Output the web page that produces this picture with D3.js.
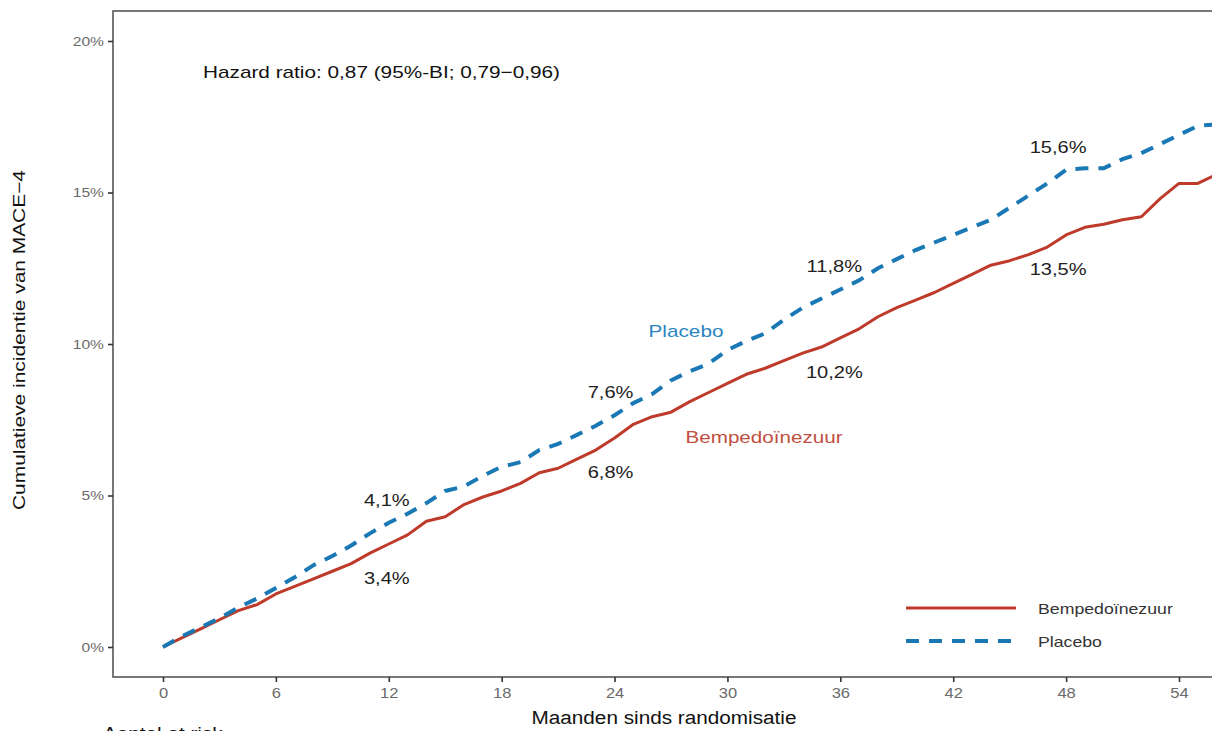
<!DOCTYPE html>
<html>
<head>
<meta charset="utf-8">
<script src="https://cdn.jsdelivr.net/npm/d3@7"></script>
<style>
  html, body { margin: 0; padding: 0; background: #fff; overflow: hidden; }
  text { font-family: "Liberation Sans", Arial, sans-serif; }
</style>
</head>
<body>
<div id="chart"></div>
<script>
// Data
const months = d3.range(0, 58);
const bempedoic = [0, 0.3, 0.6, 0.9, 1.2, 1.4, 1.75, 2.0, 2.25, 2.5, 2.75, 3.1, 3.4, 3.7, 4.15, 4.3, 4.7, 4.95, 5.15, 5.4,
  5.75, 5.9, 6.2, 6.5, 6.9, 7.35, 7.6, 7.75, 8.1, 8.4, 8.7, 9.0, 9.2, 9.45, 9.7, 9.9, 10.2, 10.5, 10.9, 11.2,
  11.45, 11.7, 12.0, 12.3, 12.6, 12.75, 12.95, 13.2, 13.6, 13.85, 13.95, 14.1, 14.2, 14.8, 15.3, 15.3, 15.6, 15.6];
const placebo = [0, 0.35, 0.65, 0.95, 1.3, 1.6, 1.95, 2.3, 2.7, 3.0, 3.35, 3.75, 4.1, 4.4, 4.75, 5.15, 5.3, 5.65, 5.95, 6.1,
  6.5, 6.7, 7.0, 7.3, 7.65, 8.05, 8.35, 8.8, 9.1, 9.35, 9.8, 10.1, 10.35, 10.8, 11.2, 11.5, 11.8, 12.1, 12.5, 12.8,
  13.1, 13.35, 13.6, 13.85, 14.1, 14.5, 14.9, 15.3, 15.75, 15.8, 15.8, 16.1, 16.3, 16.6, 16.9, 17.2, 17.25, 17.3];

const xTicks = [0, 6, 12, 18, 24, 30, 36, 42, 48, 54];
const yTicks = [0, 5, 10, 15, 20];

// Labels at the yearly time points
const markMonths = [12, 24, 36, 48];
const placeboMarks = ["4,1%", "7,6%", "11,8%", "15,6%"];
const bempedoicMarks = ["3,4%", "6,8%", "10,2%", "13,5%"];

const RED = "#be3a2b";
const BLUE = "#1a78b5";

const width = 1212, height = 731;

const x = d3.scaleLinear().domain([0, 54]).range([163, 1179]);
const y = d3.scaleLinear().domain([0, 20]).range([647, 41]);

const panel = { left: 113, top: 11, bottom: 677, right: 1214 };

// the original font runs wider than Liberation Sans, so stretch texts a bit
function stretch(sel, k) {
  sel.each(function () {
    const w = this.getComputedTextLength();
    d3.select(this).attr("textLength", w * k).attr("lengthAdjust", "spacingAndGlyphs");
  });
}
function fitTo(sel, target) {
  sel.attr("textLength", target).attr("lengthAdjust", "spacingAndGlyphs");
}

const svg = d3.select("#chart").append("svg")
  .attr("width", width)
  .attr("height", height);

svg.append("defs").append("clipPath").attr("id", "clip")
  .append("rect")
  .attr("x", panel.left).attr("y", panel.top)
  .attr("width", panel.right - panel.left)
  .attr("height", panel.bottom - panel.top);

// Panel border
svg.append("rect")
  .attr("x", panel.left).attr("y", panel.top)
  .attr("width", panel.right - panel.left)
  .attr("height", panel.bottom - panel.top)
  .attr("fill", "none")
  .attr("stroke", "#555")
  .attr("stroke-width", 1.6);

// Axes
const xAxis = svg.append("g")
  .attr("transform", `translate(0,${panel.bottom})`)
  .call(d3.axisBottom(x).tickValues(xTicks).tickSize(5).tickPadding(5));
const yAxis = svg.append("g")
  .attr("transform", `translate(${panel.left},0)`)
  .call(d3.axisLeft(y).tickValues(yTicks).tickFormat(d => d + "%").tickSize(5).tickPadding(4));

[xAxis, yAxis].forEach(a => {
  a.select(".domain").remove();
  a.selectAll(".tick line").attr("stroke", "#333").attr("stroke-width", 1.6);
  a.selectAll(".tick text").attr("fill", "#6a6a6a")
    .style("font-family", "'Liberation Sans', Arial, sans-serif");
});
xAxis.selectAll(".tick text").style("font-size", "15px");
yAxis.selectAll(".tick text").style("font-size", "13px");
stretch(xAxis.selectAll(".tick text"), 1.1);
stretch(yAxis.selectAll(".tick text"), 1.2);

// Axis titles
svg.append("text")
  .attr("x", 664).attr("y", 724)
  .attr("text-anchor", "middle")
  .style("font-size", "18px")
  .attr("fill", "#111")
  .text("Maanden sinds randomisatie")
  .call(fitTo, 265);

svg.append("text")
  .attr("transform", `translate(25,340) rotate(-90)`)
  .attr("text-anchor", "middle")
  .style("font-size", "17px")
  .attr("fill", "#111")
  .text("Cumulatieve incidentie van MACE\u22124")
  .call(fitTo, 340);

// only the top of this line shows at the bottom edge, as in the original
svg.append("text")
  .attr("x", 103).attr("y", 740)
  .style("font-size", "18px")
  .attr("fill", "#111")
  .text("Aantal at risk")
  .call(stretch, 1.15);

// Curves
const line = d3.line()
  .x((d, i) => x(months[i]))
  .y(d => y(d));

const curves = svg.append("g").attr("clip-path", "url(#clip)");

curves.append("path")
  .datum(bempedoic)
  .attr("d", line)
  .attr("fill", "none")
  .attr("stroke", RED)
  .attr("stroke-width", 3)
  .attr("stroke-linejoin", "round");

curves.append("path")
  .datum(placebo)
  .attr("d", line)
  .attr("fill", "none")
  .attr("stroke", BLUE)
  .attr("stroke-width", 4)
  .attr("stroke-dasharray", "13,10");

// Percentage labels
svg.append("g").selectAll("text")
  .data(markMonths)
  .join("text")
  .attr("x", (d, i) => x(d) - 2 - 2 * i)
  .attr("y", (d, i) => y(placebo[d]) - 17)
  .attr("text-anchor", "middle")
  .style("font-size", "17px")
  .attr("fill", "#222")
  .text((d, i) => placeboMarks[i])
  .call(stretch, 1.18);

svg.append("g").selectAll("text")
  .data(markMonths)
  .join("text")
  .attr("x", (d, i) => x(d) - 2 - 2 * i)
  .attr("y", (d, i) => y(bempedoic[d]) + 40)
  .attr("text-anchor", "middle")
  .style("font-size", "17px")
  .attr("fill", "#222")
  .text((d, i) => bempedoicMarks[i])
  .call(stretch, 1.18);

// Series labels
svg.append("text")
  .attr("x", 686).attr("y", 337)
  .attr("text-anchor", "middle")
  .style("font-size", "17px")
  .attr("fill", "#2b86c0")
  .text("Placebo")
  .call(fitTo, 75);

svg.append("text")
  .attr("x", 764).attr("y", 443)
  .attr("text-anchor", "middle")
  .style("font-size", "17px")
  .attr("fill", "#c0503f")
  .text("Bempedoïnezuur")
  .call(fitTo, 157);

// Hazard ratio
svg.append("text")
  .attr("x", 203).attr("y", 78)
  .style("font-size", "17px")
  .attr("fill", "#111")
  .text("Hazard ratio: 0,87 (95%-BI; 0,79\u22120,96)")
  .call(fitTo, 357);

// Legend
const legendItems = [
  { name: "Bempedoïnezuur", color: RED, dash: null, w: 3 },
  { name: "Placebo", color: BLUE, dash: "13,10", w: 4 }
];
const legend = svg.append("g").selectAll("g")
  .data(legendItems)
  .join("g")
  .attr("transform", (d, i) => `translate(906,${608 + i * 33})`);
legend.append("line")
  .attr("x1", 0).attr("x2", 110)
  .attr("stroke", d => d.color)
  .attr("stroke-width", d => d.w)
  .attr("stroke-dasharray", d => d.dash);
legend.append("text")
  .attr("x", 132).attr("y", 6)
  .style("font-size", "15px")
  .attr("fill", "#333")
  .text(d => d.name)
  .call(stretch, 1.18);
</script>
</body>
</html>
